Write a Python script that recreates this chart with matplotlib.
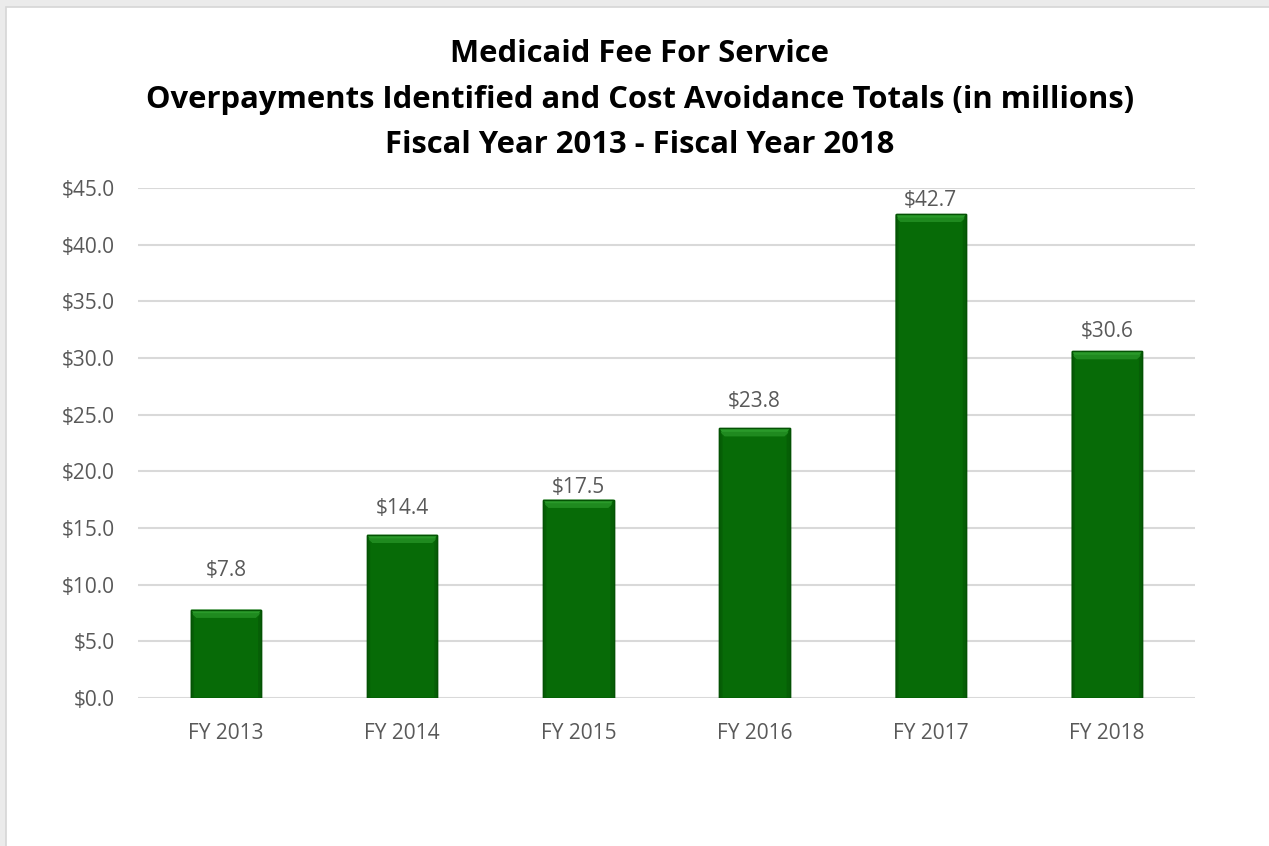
import matplotlib
matplotlib.use("Agg")
import matplotlib.pyplot as plt
from matplotlib.patches import Polygon, Rectangle
import numpy as np

categories = ["FY 2013", "FY 2014", "FY 2015", "FY 2016", "FY 2017", "FY 2018"]
values = [7.8, 14.4, 17.5, 23.8, 42.7, 30.6]
y_ticks = [0, 5, 10, 15, 20, 25, 30, 35, 40, 45]
title_lines = [
    "Medicaid Fee For Service",
    "Overpayments Identified and Cost Avoidance Totals (in millions)",
    "Fiscal Year 2013 - Fiscal Year 2018",
]

# vertical gap (points) between each bar top and the centre of its value label
label_gap_pt = [28, 19, 9, 19, 10, 14]

W, H = 1269, 846
fig = plt.figure(figsize=(W / 100, H / 100), dpi=100)
fig.patch.set_facecolor("#ebebeb")

# white chart panel with a thin grey frame
panel = Rectangle((6 / W, -0.01), 1.0, 1 - 7 / H + 0.01, transform=fig.transFigure,
                  facecolor="white", edgecolor="#d6d6d6", linewidth=1.2, zorder=-5)
fig.patches.append(panel)

ax = fig.add_axes([138 / W, 1 - 698 / H, (1195 - 138) / W, (698 - 188) / H])
ax.set_facecolor("none")
ax.set_zorder(2)

x = np.arange(len(categories))
bar_w = 0.40
bars = ax.bar(x, values, width=bar_w, color="#076b07", edgecolor="#045204",
              linewidth=1.0, zorder=3)

# bevelled top highlight and slightly darker sides on each bar
for b in bars:
    x0 = b.get_x()
    x1 = x0 + b.get_width()
    top = b.get_height()
    bh = 0.7
    inset = 0.03
    ax.add_patch(Polygon([[x0, top], [x1, top], [x1 - inset, top - bh], [x0 + inset, top - bh]],
                         closed=True, facecolor="#2a9a2a", edgecolor="none", zorder=4))
    ax.add_patch(Polygon([[x0, top - bh * 0.45], [x1, top - bh * 0.45],
                          [x1 - inset, top - bh], [x0 + inset, top - bh]],
                         closed=True, facecolor="#1f8a1f", edgecolor="none", zorder=4))
    ax.add_patch(Polygon([[x0, top], [x0 + inset * 0.6, top - bh], [x0 + inset * 0.6, 0], [x0, 0]],
                         closed=True, facecolor="#065f06", edgecolor="none", zorder=4))
    ax.add_patch(Polygon([[x1, top], [x1 - inset * 0.6, top - bh], [x1 - inset * 0.6, 0], [x1, 0]],
                         closed=True, facecolor="#065f06", edgecolor="none", zorder=4))
    ax.add_patch(Rectangle((x0, 0), x1 - x0, top, facecolor="none",
                           edgecolor="#045204", linewidth=1.0, zorder=5))

for xi, v, gap in zip(x, values, label_gap_pt):
    ax.annotate(f"${v:.1f}", (xi, v), xytext=(0, gap), textcoords="offset points",
                ha="center", va="center", fontsize=15, color="#595959",
                family="Open Sans", zorder=6)

ax.set_xlim(-0.5, len(categories) - 0.5)
ax.set_ylim(0, 45)
ax.set_yticks(y_ticks)
ax.set_yticklabels([f"${t:.1f}" for t in y_ticks])
ax.set_xticks(x)
ax.set_xticklabels(categories)
ax.tick_params(axis="both", length=0, labelsize=15, labelcolor="#595959")
ax.tick_params(axis="y", pad=17)
ax.tick_params(axis="x", pad=18)
for lbl in ax.get_xticklabels() + ax.get_yticklabels():
    lbl.set_family("Open Sans")
ax.grid(axis="y", color="#d9d9d9", linewidth=1.5, zorder=0)
ax.set_axisbelow(True)
for s in ax.spines.values():
    s.set_visible(False)

title_y = [54, 100, 145]
for line, yy in zip(title_lines, title_y):
    fig.text(640 / W, 1 - yy / H, line, ha="center", va="center",
             fontsize=22.3, fontweight="bold", family="Open Sans", color="#000000")

fig.savefig("out.png", dpi=100, facecolor=fig.get_facecolor())
